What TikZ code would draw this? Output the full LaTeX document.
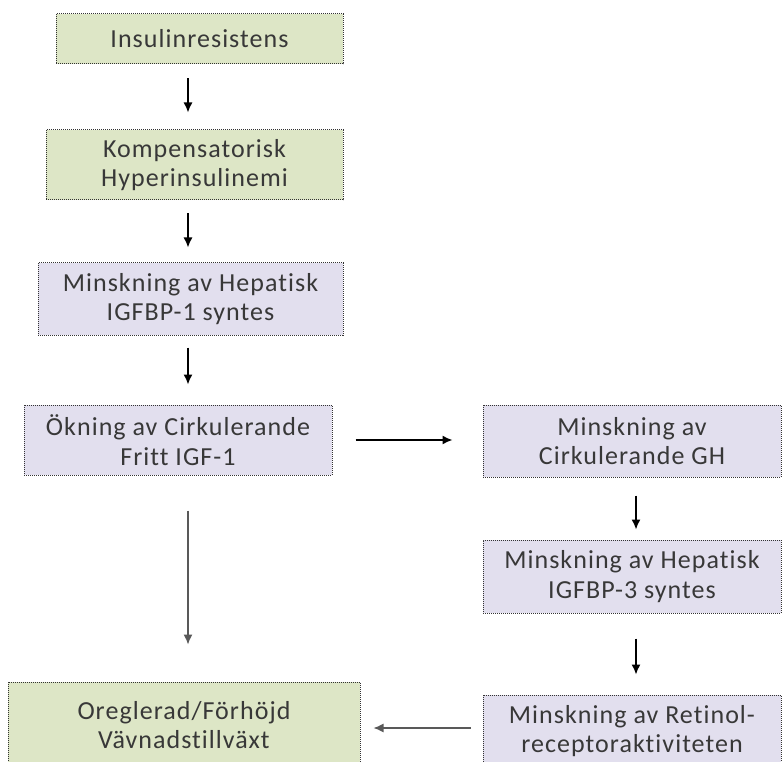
\documentclass[tikz,border=0pt]{standalone}
\usepackage{fontspec}
\setmainfont{Carlito}
\newfontfamily\rutafont[LetterSpace=4,Ligatures=NoCommon]{Carlito}
\usetikzlibrary{arrows.meta}
\definecolor{gron}{HTML}{DDE6C6}
\definecolor{lila}{HTML}{E2DFEE}
\definecolor{textgra}{HTML}{383838}

\begin{document}
\begin{tikzpicture}[x=1pt,y=-1pt,
    ruta/.style={draw=black!80,densely dotted,line width=1pt,align=center,
      text=textgra,font=\rutafont\fontsize{26}{29.5}\selectfont,inner sep=0pt},
    gronruta/.style={ruta,fill=gron},
    lilaruta/.style={ruta,fill=lila},
    pil/.style={-{Latex[length=10pt,width=9pt]},line width=1.5pt},
    langpil/.style={-{Latex[length=10pt,width=9pt]},line width=1.3pt,black!65}]
        \useasboundingbox (0,0) rectangle (782,762);
        % vänster kolumn
        \node[gronruta,minimum width=287,minimum height=50] (b1) at (199.5,39) {Insulinresistens};
        \node[gronruta,minimum width=297,minimum height=70] (b2) at (194.5,165) {Kompensatorisk\\Hyperinsulinemi};
        \node[lilaruta,minimum width=305,minimum height=72] (b3) at (190.5,299) {Minskning av Hepatisk\\IGFBP-1 syntes};
        \node[lilaruta,minimum width=308,minimum height=70] (b4) at (178,440) {Ökning av Cirkulerande\\Fritt IGF-1};
        \node[gronruta,minimum width=352,minimum height=86] (b8) at (184,725) {Oreglerad/Förhöjd\\Vävnadstillväxt};
        % höger kolumn
        \node[lilaruta,minimum width=298,minimum height=72] (b5) at (632,441) {Minskning av\\Cirkulerande GH};
        \node[lilaruta,minimum width=298,minimum height=73] (b6) at (632,576.5) {Minskning av Hepatisk\\IGFBP-3 syntes};
        \node[lilaruta,minimum width=298,minimum height=72] (b7) at (632,731) {Minskning av Retinol-\\receptoraktiviteten};
        % pilar
        \coordinate (mitt) at (188,0);
        \coordinate (hmitt) at (636,0);
        \draw[pil,shorten <=14pt,shorten >=17pt] (b1.south -| mitt) -- (b2.north -| mitt);
        \draw[pil,shorten <=13pt,shorten >=15pt] (b2.south -| mitt) -- (b3.north -| mitt);
        \draw[pil,shorten <=12pt,shorten >=20pt] (b3.south -| mitt) -- (b4.north -| mitt);
        \draw[langpil,shorten <=35pt,shorten >=37pt] (b4.south -| mitt) -- (b8.north -| mitt);
        \draw[pil,shorten <=23pt,shorten >=30pt] (b4.east) -- (b4.east -| b5.west);
        \draw[pil,shorten <=18pt,shorten >=10pt] (b5.south -| hmitt) -- (b6.north -| hmitt);
        \draw[pil,shorten <=25pt,shorten >=20pt] (b6.south -| hmitt) -- (b7.north -| hmitt);
        \draw[langpil,shorten <=12pt,shorten >=13pt] (b7.west |- 0,728) -- (b8.east |- 0,728);
    \end{tikzpicture}
\end{document}
